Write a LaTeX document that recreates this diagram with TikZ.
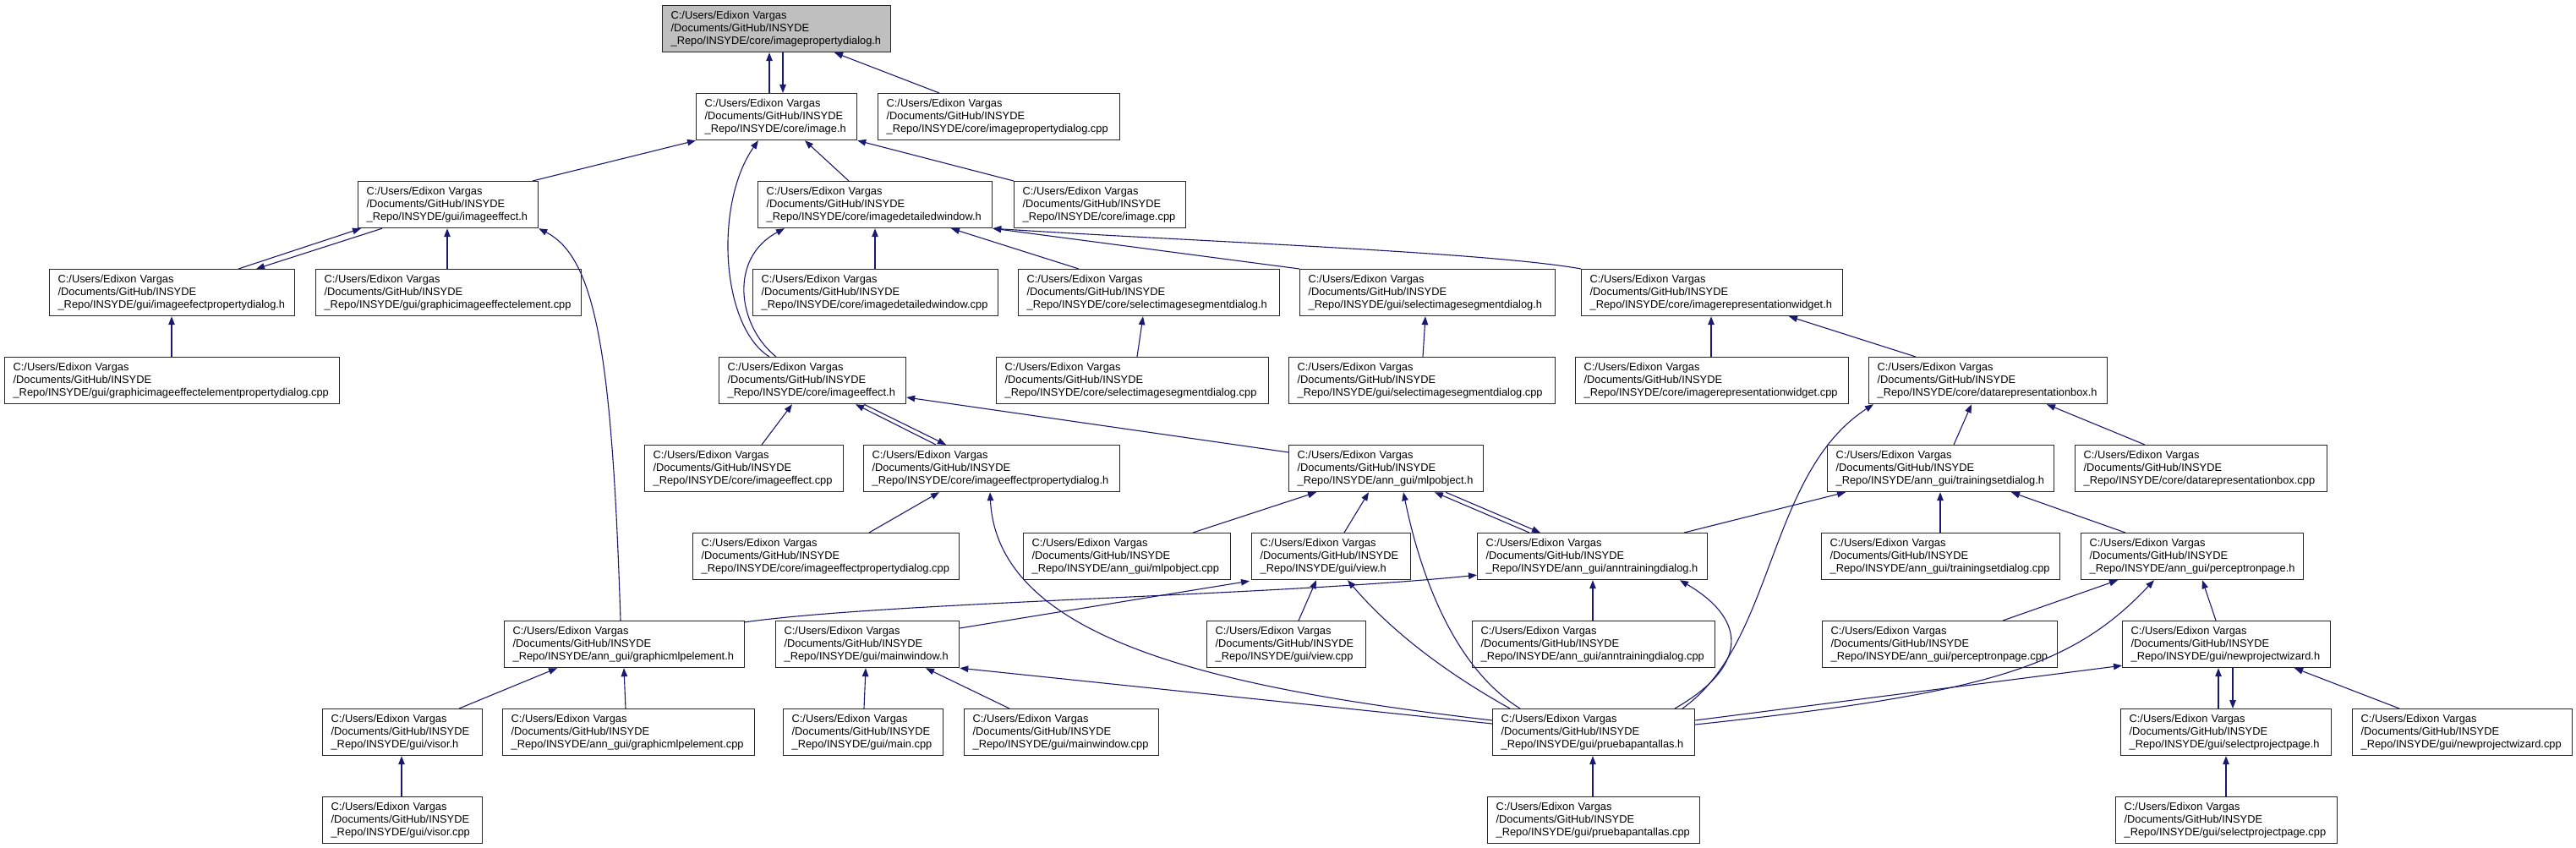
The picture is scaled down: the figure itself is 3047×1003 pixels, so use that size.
\documentclass[tikz,border=0pt]{standalone}
\usepackage{fontspec}
\setmainfont{Liberation Sans}
\usetikzlibrary{arrows.meta}
\definecolor{edgeblue}{HTML}{191970}
\definecolor{rootgray}{HTML}{BFBFBF}
\newcommand\nfont{\fontsize{12.85}{14.7}\selectfont\hyphenpenalty=10000\exhyphenpenalty=10000}
\newcommand\fnode[5][]{\node[filebox,#1,text width=\the\numexpr#4-20\relax pt] (#2) at (#3) {C:/Users/Edixon Vargas\\/Documents/GitHub/INSYDE\\\_Repo/INSYDE/#5};}
\tikzset{
  filebox/.style={draw=black!85, line width=1.2pt, fill=white, anchor=north west, inner xsep=10pt, inner ysep=0pt, minimum height=55pt, align=left, font=\nfont},
  dep/.style={draw=edgeblue, line width=1.1pt, -{Triangle[length=10pt,width=7.5pt]}}
}
\begin{document}
\begin{tikzpicture}[x=1pt,y=-1pt]
\useasboundingbox (0,0) rectangle (3047,1003);
% row 1
\fnode[fill=rootgray]{root}{783,6}{270}{core/imagepropertydialog.h}
% row 2
\fnode{imageh}{823,110}{190}{core/image.h}
\fnode{ipdcpp}{1038,110}{286}{core/imagepropertydialog.cpp}
% row 3
\fnode{guiie}{423,214}{213}{gui/imageeffect.h}
\fnode{idwh}{896,214}{277}{core/imagedetailedwindow.h}
\fnode{imagecpp}{1199,214}{203}{core/image.cpp}
% row 4
\fnode{iepdhgui}{58,318}{290}{gui/imageefectpropertydialog.h}
\fnode{gieecpp}{373,318}{314}{gui/graphicimageeffectelement.cpp}
\fnode{idwcpp}{890,318}{290}{core/imagedetailedwindow.cpp}
\fnode{csisdh}{1204,318}{309}{core/selectimagesegmentdialog.h}
\fnode{gsisdh}{1537,318}{302}{gui/selectimagesegmentdialog.h}
\fnode{irwh}{1870,318}{309}{core/imagerepresentationwidget.h}
% row 5
\fnode{gieepdcpp}{5,422}{396}{gui/graphicimageeffectelementpropertydialog.cpp}
\fnode{cieh}{850,422}{221}{core/imageeffect.h}
\fnode{csisdcpp}{1178,422}{322}{core/selectimagesegmentdialog.cpp}
\fnode{gsisdcpp}{1524,422}{315}{gui/selectimagesegmentdialog.cpp}
\fnode{irwcpp}{1863,422}{323}{core/imagerepresentationwidget.cpp}
\fnode{drbh}{2210,422}{282}{core/datarepresentationbox.h}
% row 6
\fnode{iecpp}{762,526}{235}{core/imageeffect.cpp}
\fnode{iepdh}{1021,526}{303}{core/imageeffectpropertydialog.h}
\fnode{mlph}{1524,526}{230}{ann\_gui/mlpobject.h}
\fnode{tsdh}{2161,526}{268}{ann\_gui/trainingsetdialog.h}
\fnode{drbcpp}{2454,526}{298}{core/datarepresentationbox.cpp}
% row 7
\fnode{iepdcpp}{819,630}{315}{core/imageeffectpropertydialog.cpp}
\fnode{mlpcpp}{1210,630}{245}{ann\_gui/mlpobject.cpp}
\fnode{viewh}{1480,630}{188}{gui/view.h}
\fnode{atdh}{1747,630}{272}{ann\_gui/anntrainingdialog.h}
\fnode{tsdcpp}{2154,630}{282}{ann\_gui/trainingsetdialog.cpp}
\fnode{pph}{2461,630}{263}{ann\_gui/perceptronpage.h}
% row 8
\fnode{gmlph}{596,734}{284}{ann\_gui/graphicmlpelement.h}
\fnode{mwh}{917,734}{217}{gui/mainwindow.h}
\fnode{viewcpp}{1427,734}{188}{gui/view.cpp}
\fnode{atdcpp}{1741,734}{287}{ann\_gui/anntrainingdialog.cpp}
\fnode{ppcpp}{2155,734}{278}{ann\_gui/perceptronpage.cpp}
\fnode{npwh}{2510,734}{246}{gui/newprojectwizard.h}
% row 9
\fnode{visorh}{381,838}{189}{gui/visor.h}
\fnode{gmlpcpp}{594,838}{298}{ann\_gui/graphicmlpelement.cpp}
\fnode{maincpp}{926,838}{189}{gui/main.cpp}
\fnode{mwcpp}{1140,838}{230}{gui/mainwindow.cpp}
\fnode{pbh}{1765,838}{239}{gui/pruebapantallas.h}
\fnode{spph}{2508,838}{249}{gui/selectprojectpage.h}
\fnode{npwcpp}{2782,838}{260}{gui/newprojectwizard.cpp}
% row 10
\fnode{visorcpp}{381,942}{189}{gui/visor.cpp}
\fnode{pbcpp}{1759,942}{251}{gui/pruebapantallas.cpp}
\fnode{spcpp}{2502,942}{262}{gui/selectprojectpage.cpp}

% ---- connectors (arrow at the included file) ----
\draw[dep] ([xshift=87]imageh.north west) -- ([xshift=127]root.south west);
\draw[dep] ([xshift=143]root.south west) -- ([xshift=103]imageh.north west);
\draw[dep] ([xshift=73]ipdcpp.north west) -- ([xshift=204]root.south west);
\draw[dep] ([xshift=207]guiie.north west) -- (imageh.south west);
\draw[dep] ([xshift=60]cieh.north west) .. controls (852,385) and (845,240) .. ([xshift=74]imageh.south west);
\draw[dep] ([xshift=68]cieh.north west) .. controls (872,385) and (862,305) .. ([xshift=32]idwh.south west);
\draw[dep] ([xshift=108]idwh.north west) -- ([xshift=129]imageh.south west);
\draw[dep] (imagecpp.north west) -- (imageh.south east);
\draw[dep] ([xshift=224]iepdhgui.north west) -- ([xshift=4]guiie.south west);
\draw[dep] ([xshift=29]guiie.south west) -- ([xshift=245]iepdhgui.north west);
\draw[dep] ([xshift=156]gieecpp.north west) -- ([xshift=106]guiie.south west);
\draw[dep] ([xshift=138]gmlph.north west) .. controls (724,420) and (705,305) .. (guiie.south east);
\draw[dep] ([xshift=198]gieepdcpp.north west) -- ([xshift=145]iepdhgui.south west);
\draw[dep] ([xshift=145]idwcpp.north west) -- ([xshift=139]idwh.south west);
\draw[dep] ([xshift=72]csisdh.north west) -- ([xshift=229]idwh.south west);
\draw[dep] (gsisdh.north west) -- (idwh.south east);
\draw[dep] (irwh.north west) .. controls (1760,298) and (1400,285) .. (idwh.south east);
\draw[dep] ([xshift=167]csisdcpp.north west) -- ([xshift=148]csisdh.south west);
\draw[dep] ([xshift=159]gsisdcpp.north west) -- ([xshift=149]gsisdh.south west);
\draw[dep] ([xshift=161]irwcpp.north west) -- ([xshift=154]irwh.south west);
\draw[dep] ([xshift=56]drbh.north west) -- ([xshift=246]irwh.south west);
\draw[dep] ([xshift=139]iecpp.north west) -- ([xshift=87]cieh.south west);
\draw[dep] ([xshift=86]iepdh.north west) -- ([xshift=162]cieh.south west);
\draw[dep] ([xshift=172]cieh.south west) -- ([xshift=98]iepdh.north west);
\draw[dep] ([yshift=-9]mlph.north west) -- ([yshift=-48]cieh.north east);
\draw[dep] ([xshift=209]iepdcpp.north west) -- ([xshift=90]iepdh.south west);
\draw[dep] ([yshift=-14]pbh.north west) .. controls (1450,815) and (1180,760) .. ([xshift=150]iepdh.south west);
\draw[dep] ([yshift=-18]pbh.north west) -- (mwh.south east);
\draw[dep] ([xshift=33]pbh.north west) .. controls (1720,790) and (1680,680) .. ([xshift=136]mlph.south west);
\draw[dep] ([xshift=21]pbh.north west) .. controls (1700,790) and (1640,740) .. ([xshift=114]viewh.south west);
\draw[dep] ([xshift=216]pbh.north west) .. controls (2065,790) and (2070,735) .. ([xshift=240]atdh.south west);
\draw[dep] ([xshift=225]pbh.north west) .. controls (2100,760) and (2090,560) .. ([xshift=6]drbh.south west);
\draw[dep] ([yshift=-14]pbh.north east) -- ([yshift=3]npwh.south west);
\draw[dep] ([yshift=-19]pbh.north east) .. controls (2350,820) and (2450,790) .. ([xshift=87]pph.south west);
\draw[dep] ([xshift=284,yshift=-2]gmlph.north west) .. controls (1050,712) and (1500,705) .. ([yshift=6]atdh.south west);
\draw[dep] ([yshift=-9]mwh.north east) -- ([xshift=-2,yshift=-1]viewh.south west);
\draw[dep] ([xshift=201]mlpcpp.north west) -- ([xshift=33]mlph.south west);
\draw[dep] ([xshift=110]viewh.north west) -- ([xshift=95]mlph.south west);
\draw[dep] ([xshift=62]atdh.north west) -- ([xshift=173]mlph.south west);
\draw[dep] ([xshift=186]mlph.south west) -- ([xshift=75]atdh.north west);
\draw[dep] ([xshift=245]atdh.north west) -- ([xshift=22]tsdh.south west);
\draw[dep] ([xshift=109]viewcpp.north west) -- ([xshift=77]viewh.south west);
\draw[dep] ([xshift=143]atdcpp.north west) -- ([xshift=137]atdh.south west);
\draw[dep] ([xshift=150]tsdh.north west) -- ([xshift=122]drbh.south west);
\draw[dep] ([xshift=141]tsdcpp.north west) -- ([xshift=134]tsdh.south west);
\draw[dep] ([xshift=53]pph.north west) -- ([xshift=218]tsdh.south west);
\draw[dep] ([xshift=83]drbcpp.north west) -- ([xshift=211]drbh.south west);
\draw[dep] ([xshift=214]ppcpp.north west) -- ([xshift=44]pph.south west);
\draw[dep] ([xshift=111]npwh.north west) -- ([xshift=144]pph.south west);
\draw[dep] ([xshift=116]spph.north west) -- ([xshift=114]npwh.south west);
\draw[dep] ([xshift=131]npwh.south west) -- ([xshift=133]spph.north west);
\draw[dep] ([xshift=56]npwcpp.north west) -- ([xshift=204]npwh.south west);
\draw[dep] ([xshift=131]spcpp.north west) -- ([xshift=125]spph.south west);
\draw[dep] ([xshift=125]pbcpp.north west) -- ([xshift=119]pbh.south west);
\draw[dep] ([xshift=162]visorh.north west) -- ([xshift=63]gmlph.south west);
\draw[dep] ([xshift=146]gmlpcpp.north west) -- ([xshift=142]gmlph.south west);
\draw[dep] ([xshift=94]visorcpp.north west) -- ([xshift=94]visorh.south west);
\draw[dep] ([xshift=96]maincpp.north west) -- ([xshift=107]mwh.south west);
\draw[dep] ([xshift=54]mwcpp.north west) -- ([xshift=178]mwh.south west);
\end{tikzpicture}
\end{document}
